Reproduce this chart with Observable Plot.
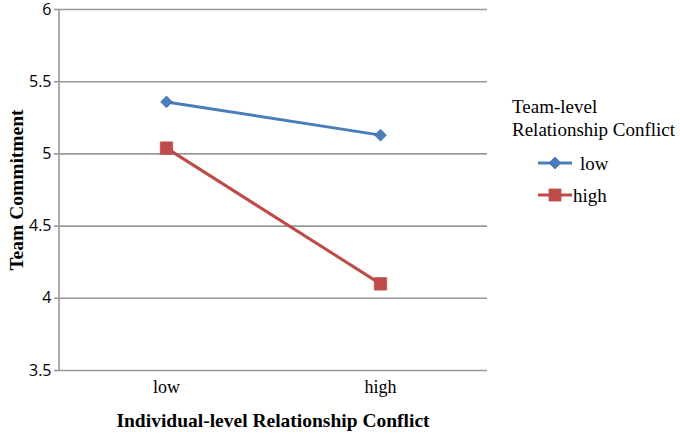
<!DOCTYPE html>
<html>
<head>
<meta charset="utf-8">
<script src="https://cdn.jsdelivr.net/npm/d3@7"></script>
<script src="https://cdn.jsdelivr.net/npm/@observablehq/plot@0.6"></script>
<style>
body { margin: 0; background: #fff; }
#chart svg { display: block; }
</style>
</head>
<body>
<div id="chart"></div>
<script>
const categories = ["low", "high"];
const seriesNames = ["low", "high"];
const lowTeam = [5.36, 5.13];
const highTeam = [5.04, 4.10];
const yTicks = [3.5, 4, 4.5, 5, 5.5, 6];
const colors = ["#4a7ebb", "#be4b48"];
const symbols = ["diamond2", "square"];

const data = [];
categories.forEach((c, i) => {
  data.push({ x: c, y: lowTeam[i], s: seriesNames[0] });
  data.push({ x: c, y: highTeam[i], s: seriesNames[1] });
});

const plot = Plot.plot({
  width: 680,
  height: 433,
  marginLeft: 59,
  marginRight: 193,
  marginTop: 9,
  marginBottom: 63,
  style: { background: "#fff", overflow: "visible" },
  x: { type: "point", domain: categories, padding: 0.5 },
  y: { domain: [3.5, 6] },
  color: { domain: seriesNames, range: colors },
  symbol: { domain: seriesNames, range: symbols },
  marks: [
    Plot.gridY(yTicks, { stroke: "#999", strokeOpacity: 1, strokeWidth: 1.6 }),
    Plot.axisY(yTicks, { tickSize: 5, stroke: "#999", strokeWidth: 1.6, tickPadding: 3, fontSize: 16, fontFamily: "Open Sans, sans-serif", fill: "#000", label: null, tickFormat: d => String(d) }),
    Plot.axisX({ tickSize: 0, tickPadding: 10, fontSize: 18, fontFamily: "Liberation Serif, serif", fill: "#000", label: null }),
    Plot.line(data, { x: "x", y: "y", z: "s", stroke: "s", strokeWidth: 3 }),
    Plot.dot(data.filter(d => d.s === "low"), { x: "x", y: "y", symbol: "s", fill: "s", stroke: "#3b6aa8", strokeWidth: 0.8, r: 5.3 }),
    Plot.dot(data.filter(d => d.s === "high"), { x: "x", y: "y", symbol: "s", fill: "s", stroke: "#c0504d", strokeWidth: 0.8, r: 7 })
  ]
});

document.getElementById("chart").appendChild(plot);

const svg = d3.select(plot);
const ys = plot.scale("y");
const y0 = ys.apply(3.5), y1 = ys.apply(6);
// left axis line
svg.append("line").attr("x1", 59).attr("x2", 59).attr("y1", y1).attr("y2", y0)
  .attr("stroke", "#999").attr("stroke-width", 1.6);

const serif = "'Liberation Serif', serif";
// axis titles
svg.append("text").attr("x", 273).attr("y", 427)
  .style("text-anchor", "middle").style("font-family", serif).style("font-size", "19.5px").style("font-weight", "bold")
  .attr("fill", "#000").text("Individual-level Relationship Conflict");
svg.append("text").attr("transform", "translate(23,190) rotate(-90)")
  .style("text-anchor", "middle").style("font-family", serif).style("font-size", "19.5px").style("font-weight", "bold")
  .attr("fill", "#000").text("Team Commitment");

// legend
const lg = svg.append("g");
const ltext = (x, y, t) => lg.append("text").attr("x", x).attr("y", y)
  .style("font-family", serif).style("font-size", "19px").style("text-anchor", "start").attr("fill", "#000").text(t);
ltext(512, 113, "Team-level");
ltext(512, 136, "Relationship Conflict");
seriesNames.forEach((s, i) => {
  const cy = 163 + i * 32;
  lg.append("line").attr("x1", 538).attr("x2", 572).attr("y1", cy).attr("y2", cy)
    .attr("stroke", colors[i]).attr("stroke-width", 3);
  const path = i === 0 ? d3.symbol(d3.symbolDiamond2, Math.PI * 5.3 * 5.3)() : d3.symbol(d3.symbolSquare, Math.PI * 6.8 * 6.8)();
  lg.append("path").attr("d", path).attr("transform", `translate(555,${cy})`).attr("fill", colors[i])
    .attr("stroke", i === 0 ? "#3b6aa8" : "#c0504d").attr("stroke-width", 0.8);
  ltext(i === 0 ? 580 : 573, cy + 7, s);
});
</script>
</body>
</html>
